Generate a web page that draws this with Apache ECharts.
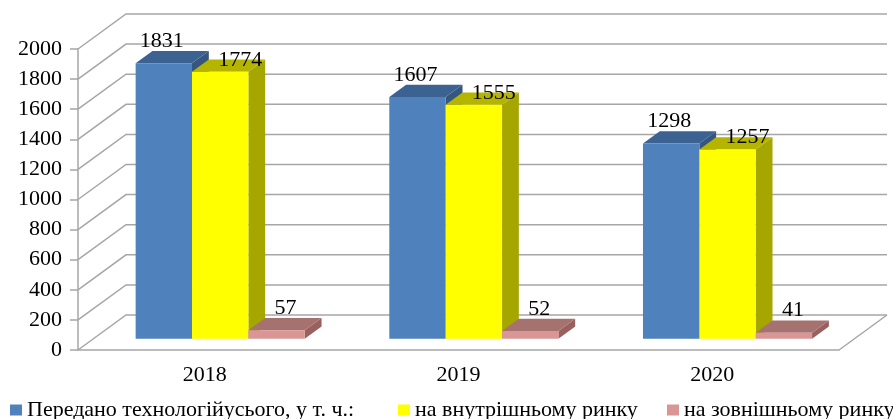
<!DOCTYPE html>
<html>
<head>
<meta charset="utf-8">
<script src="https://cdn.jsdelivr.net/npm/echarts@6/dist/echarts.min.js"></script>
<style>
  html, body { margin: 0; padding: 0; background: #fff; }
  #chart { width: 893px; height: 419px; }
</style>
</head>
<body>
<div id="chart"></div>
<script>
var categories = ['2018', '2019', '2020'];
var totalValues = [1831, 1607, 1298];
var domesticValues = [1774, 1555, 1257];
var foreignValues = [57, 52, 41];
var yTicks = [0, 200, 400, 600, 800, 1000, 1200, 1400, 1600, 1800, 2000];
var seriesNames = ['Передано технологійусього, у т. ч.:', 'на внутрішньому ринку', 'на зовнішньому ринку'];

// depth of the 3d box (pixels) and where the bars sit inside it
var DX = 48, DY = -35;
var F0 = 0.32, F1 = 0.67;
var FONT = '22px "Liberation Serif"';
var LINE = '#a6a6a6';

var myChart = echarts.init(document.getElementById('chart'));

function toPairs(arr) {
    return arr.map(function (v, i) { return [i, v]; });
}

function wallRender(params, api) {
    var v = api.value(1);
    var w = api.size([1, 0])[0];
    var left = api.coord([0, v]);
    var right = api.coord([categories.length - 1, v]);
    var xL = left[0] - w / 2, xR = right[0] + w / 2, y = left[1];
    var st = { stroke: LINE, lineWidth: 1.5, fill: null };
    var children = [
        { type: 'polyline', shape: { points: [[xL, y], [xL + DX, y + DY], [xR + DX, y + DY]] }, style: st }
    ];
    if (v === 0) {
        children.push({ type: 'line', shape: { x1: xR, y1: y, x2: xR + DX, y2: y + DY }, style: st });
    }
    return { type: 'group', children: children };
}

function barRender(idx, colors, ldx, ldy) {
    return function (params, api) {
        var cat = api.value(0), val = api.value(1);
        var top = api.coord([cat, val]);
        var base = api.coord([cat, 0]);
        var w = api.size([1, 0])[0];
        var bw = w / 4.5;
        var x0 = top[0] - 1.5 * bw + idx * bw + F0 * DX;
        var x1 = x0 + bw;
        var yT = top[1] + F0 * DY;
        var yB = base[1] + F0 * DY;
        var ddx = (F1 - F0) * DX, ddy = (F1 - F0) * DY;
        return {
            type: 'group',
            children: [
                { type: 'polygon', shape: { points: [[x1, yB], [x1 + ddx, yB + ddy], [x1 + ddx, yT + ddy], [x1, yT]] }, style: { fill: colors.side } },
                { type: 'polygon', shape: { points: [[x0, yT], [x1, yT], [x1 + ddx, yT + ddy], [x0 + ddx, yT + ddy]] }, style: { fill: colors.top } },
                { type: 'rect', shape: { x: x0, y: yT, width: bw, height: yB - yT }, style: { fill: colors.front } },
                { type: 'text', z2: 10, style: { text: String(val), x: x0 + bw / 2 + ldx, y: yT + ldy, align: 'center', verticalAlign: 'middle', font: FONT, fill: '#000' } }
            ]
        };
    };
}

var blue = { front: '#4f81bd', top: '#3c6291', side: '#35567f' };
var yellow = { front: '#ffff00', top: '#b5b500', side: '#a6a600' };
var pink = { front: '#d99694', top: '#a67270', side: '#9a605e' };

function legendAt(name, left) {
    return {
        data: [name],
        left: left,
        top: 399,
        padding: 0,
        icon: 'rect',
        itemWidth: 12,
        itemHeight: 11,
        selectedMode: false,
        textStyle: { fontFamily: 'Liberation Serif', fontSize: 22, color: '#000' }
    };
}

var option = {
    animation: false,
    legend: [
        legendAt(seriesNames[0], 10),
        legendAt(seriesNames[1], 398),
        legendAt(seriesNames[2], 667)
    ],
    grid: { left: 78, right: 54, top: 49, bottom: 69 },
    xAxis: {
        type: 'category',
        data: categories,
        axisLine: { lineStyle: { color: LINE, width: 1.5 } },
        axisTick: { length: 6, lineStyle: { color: LINE, width: 1.5 } },
        axisLabel: { margin: 14, fontFamily: 'Liberation Serif', fontSize: 22, color: '#000' },
        splitLine: { show: false }
    },
    yAxis: {
        type: 'value',
        min: 0,
        max: 2000,
        interval: 200,
        axisLine: { show: true, lineStyle: { color: LINE, width: 1.5 } },
        axisTick: { show: true, length: 8, lineStyle: { color: LINE, width: 1.5 } },
        axisLabel: {
            margin: 16,
            fontFamily: 'Liberation Serif',
            fontSize: 22,
            color: '#000',
            formatter: function (v) { return String(v); }
        },
        splitLine: { show: false }
    },
    series: [
        {
            name: 'walls',
            type: 'custom',
            silent: true,
            z: 1,
            data: yTicks.map(function (t) { return [0, t]; }),
            encode: { x: 0, y: 1 },
            renderItem: wallRender
        },
        {
            name: seriesNames[0],
            type: 'custom',
            z: 2,
            itemStyle: { color: blue.front },
            data: toPairs(totalValues),
            encode: { x: 0, y: 1 },
            renderItem: barRender(0, blue, -2, -22)
        },
        {
            name: seriesNames[1],
            type: 'custom',
            z: 2,
            itemStyle: { color: yellow.front },
            data: toPairs(domesticValues),
            encode: { x: 0, y: 1 },
            renderItem: barRender(1, yellow, 20, -12)
        },
        {
            name: seriesNames[2],
            type: 'custom',
            z: 2,
            itemStyle: { color: pink.front },
            data: toPairs(foreignValues),
            encode: { x: 0, y: 1 },
            renderItem: barRender(2, pink, 9, -22)
        }
    ]
};
myChart.setOption(option);
window.addEventListener('resize', function () {
    myChart.resize();
});
</script>
</body>
</html>
